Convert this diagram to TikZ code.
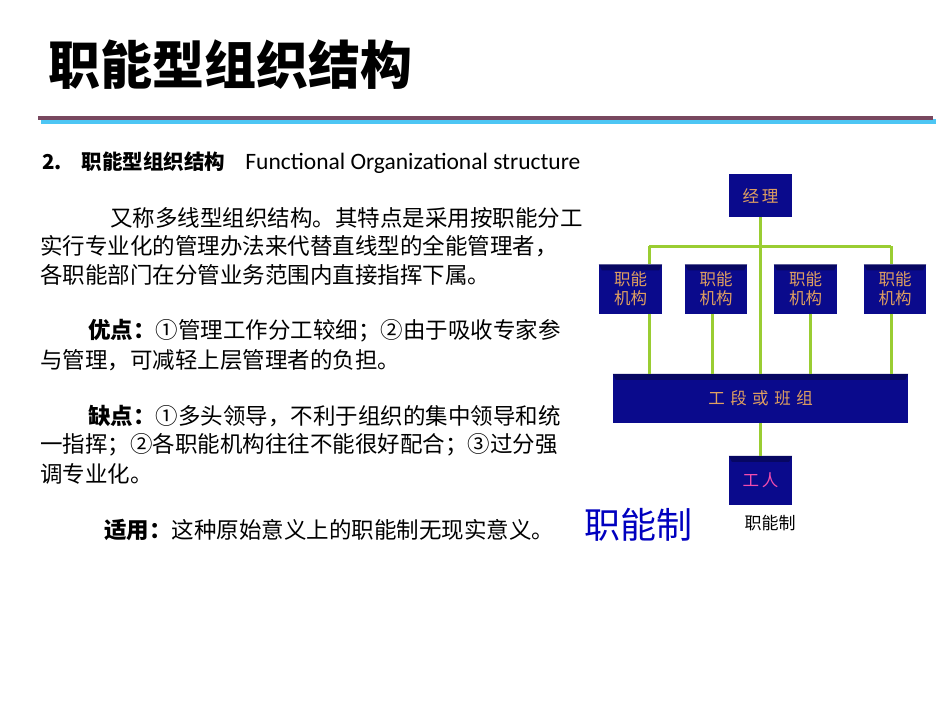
\documentclass[tikz,border=0pt]{standalone}
\usepackage{fontspec}
\setmainfont{Carlito}
\newfontfamily\cjk{Noto Sans CJK SC}
\begin{document}
\begin{tikzpicture}[x=1pt,y=-1pt,
  box/.style={draw=none,fill=navy,inner sep=0pt,text=boxtxt,font=\cjk\fontsize{16.5}{19}\selectfont},
  link/.style={draw=lime,line width=3pt},
  body/.style={anchor=west,inner sep=0pt,font=\cjk\fontsize{22.5}{24}\selectfont}]
\definecolor{navy}{HTML}{0A0A8C}
\definecolor{boxtxt}{HTML}{E0A060}
\definecolor{lime}{HTML}{9ACD32}
\useasboundingbox (0,0) rectangle (950,713);
% title
\node[anchor=west,inner sep=0pt,font=\cjk\bfseries\fontsize{52}{56}\selectfont] (title) at (48,65) {职能型组织结构};
\fill[cyan!70] (41,119) rectangle (936,124);
\fill[black!60!magenta] (38,116) rectangle (933,120);
% text
\node[body] (t0) at (42,163) {\bfseries\fontsize{20.5}{22}\selectfont 2.\hspace{20pt}职能型组织结构\hspace{20pt}\normalfont\fontsize{23.5}{24}\selectfont Functional Organizational structure};
\node[body] (t1) at (110,218) {又称多线型组织结构。其特点是采用按职能分工};
\node[body] (t2) at (40,246) {实行专业化的管理办法来代替直线型的全能管理者，};
\node[body] (t3) at (40,275) {各职能部门在分管业务范围内直接指挥下属。};
\node[body] (t4) at (88,331) {\bfseries 优点：\mdseries{}①管理工作分工较细；②由于吸收专家参};
\node[body] (t5) at (40,360) {与管理，可减轻上层管理者的负担。};
\node[body] (t6) at (88,416) {\bfseries 缺点：\mdseries{}①多头领导，不利于组织的集中领导和统};
\node[body] (t7) at (40,445) {一指挥；②各职能机构往往不能很好配合；③过分强};
\node[body] (t8) at (40,474) {调专业化。};
\node[body] (t9) at (104,530) {\bfseries 适用：\mdseries{}这种原始意义上的职能制无现实意义。};
\node[anchor=west,inner sep=0pt,text=blue!75!black,font=\cjk\fontsize{36}{40}\selectfont] (big) at (584,525) {职能制};
\node[inner sep=0pt,font=\cjk\fontsize{17}{19}\selectfont] (cap) at (770,523) {职能制};
% boxes
\node[box,minimum width=63pt,minimum height=43pt] (m) at (760.5,195.5) {经\,理};
\node[box,minimum width=63pt,minimum height=49pt,align=center] (f1) at (630.5,289) {职能\\机构};
\node[box,minimum width=62pt,minimum height=49pt,align=center] (f2) at (716,289) {职能\\机构};
\node[box,minimum width=63pt,minimum height=49pt,align=center] (f3) at (805.5,289) {职能\\机构};
\node[box,minimum width=62pt,minimum height=49pt,align=center] (f4) at (895,289) {职能\\机构};
\node[box,minimum width=295pt,minimum height=49pt] (bar) at (760.5,398.5) {工\,\,段\,\,或\,\,班\,\,组};
\node[box,minimum width=63pt,minimum height=49pt,text=magenta!70] (w) at (760.5,480.5) {工\,人};
% bevels
\foreach \n in {f1,f2,f3,f4,bar,w}{
  \fill[navy!70!black] (\n.north west) -- ([xshift=3pt,yshift=-6pt]\n.north west) -- ([xshift=-3pt,yshift=-6pt]\n.north east) -- (\n.north east) -- cycle;}
% links
\coordinate (j1) at (649,246);
\coordinate (j4) at (891,246);
\draw[link] (m.south) -- (bar.north);
\draw[link] (j1) -- (j4);
\draw[link] (j1) -- ([xshift=18.5pt]f1.north);
\draw[link] (j4) -- ([xshift=-4pt]f4.north);
\draw[link] ([xshift=18.5pt]f1.south) -- ([xshift=-111.5pt]bar.north);
\draw[link] ([xshift=-4pt]f2.south) -- ([xshift=-48.5pt]bar.north);
\draw[link] ([xshift=4.5pt]f3.south) -- ([xshift=49.5pt]bar.north);
\draw[link] ([xshift=-4pt]f4.south) -- ([xshift=130.5pt]bar.north);
\draw[link] (bar.south) -- (w.north);
\end{tikzpicture}
\end{document}
